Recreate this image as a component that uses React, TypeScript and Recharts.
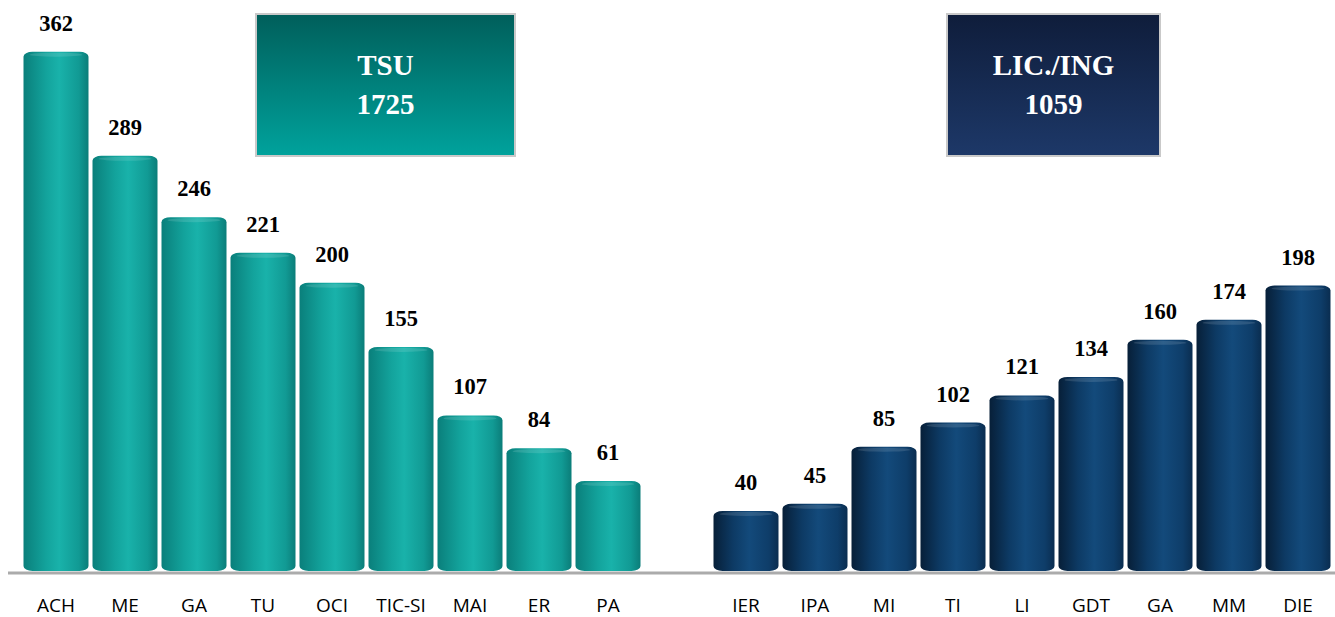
import { BarChart, Bar, XAxis, YAxis, Cell, LabelList } from "recharts";

const tsuCategories = ["ACH", "ME", "GA", "TU", "OCI", "TIC-SI", "MAI", "ER", "PA"];
const tsuValues = [362, 289, 246, 221, 200, 155, 107, 84, 61];
const licCategories = ["IER", "IPA", "MI", "TI", "LI", "GDT", "GA", "MM", "DIE"];
const licValues = [40, 45, 85, 102, 121, 134, 160, 174, 198];
const tsuTotal = 1725;
const licTotal = 1059;

type Row = { key: string; label: string; value: number | null; group: "tsu" | "lic" | "gap" };

const data: Row[] = [
  ...tsuCategories.map((c, i) => ({ key: `t-${c}`, label: c, value: tsuValues[i], group: "tsu" as const })),
  { key: "gap", label: "", value: null, group: "gap" as const },
  ...licCategories.map((c, i) => ({ key: `l-${c}`, label: c, value: licValues[i], group: "lic" as const })),
];

const serif = "'Liberation Serif', 'DejaVu Serif', serif";

function Cylinder(props: any) {
  const { x, y, width, height, fill } = props;
  if (height == null || height <= 0) return null;
  return (
    <g>
      <rect x={x} y={y} width={width} height={height + 3} rx={9} ry={5} fill={fill} />
      <ellipse cx={x + width / 2} cy={y + 3} rx={width / 2 - 6} ry={2} fill="#ffffff" opacity={0.12} />
    </g>
  );
}

function Tick(props: any) {
  const { x, y, payload } = props;
  const row = data[payload.index];
  return (
    <text x={x} y={y + 37} textAnchor="middle" fontFamily="'Open Sans', sans-serif" fontSize={19} fill="#000">
      {row ? row.label : ""}
    </text>
  );
}

function ValueLabel(props: any) {
  const { x, y, width, value } = props;
  if (value == null) return null;
  return (
    <text x={x + width / 2} y={y - 21} textAnchor="middle" fontFamily={serif} fontWeight="bold" fontSize={22.5} fill="#000">
      {value}
    </text>
  );
}

const boxText: React.CSSProperties = {
  position: "absolute",
  top: 13,
  height: 144,
  boxSizing: "border-box",
  border: "2px solid #c9c9c9",
  color: "#fff",
  fontFamily: serif,
  fontWeight: "bold",
  fontSize: 29,
  lineHeight: "39px",
  display: "flex",
  flexDirection: "column",
  alignItems: "center",
  justifyContent: "center",
};

export default function App() {
  return (
    <div style={{ position: "absolute", top: 0, left: 0, width: 1335, height: 617, background: "#fff", overflow: "hidden" }}>
      <BarChart
        width={1335}
        height={617}
        data={data}
        margin={{ top: 26, right: 0, bottom: 0, left: 8 }}
        barCategoryGap={2}
      >
        <defs>
          <linearGradient id="teal" x1="0" y1="0" x2="1" y2="0">
            <stop offset="0%" stopColor="#0a7f7b" />
            <stop offset="35%" stopColor="#13a39c" />
            <stop offset="55%" stopColor="#19b2aa" />
            <stop offset="85%" stopColor="#119a94" />
            <stop offset="100%" stopColor="#0b7d79" />
          </linearGradient>
          <linearGradient id="navy" x1="0" y1="0" x2="1" y2="0">
            <stop offset="0%" stopColor="#071f38" />
            <stop offset="30%" stopColor="#0d3a64" />
            <stop offset="55%" stopColor="#134a7b" />
            <stop offset="85%" stopColor="#0e3d69" />
            <stop offset="100%" stopColor="#0a2d50" />
          </linearGradient>
        </defs>
        <XAxis
          dataKey="key"
          height={44}
          padding={{ left: 13.5, right: 2.5 }}
          tickLine={false}
          tickSize={0}
          tick={<Tick />}
          interval={0}
          axisLine={{ stroke: "#ababab", strokeWidth: 3 }}
        />
        <YAxis hide domain={[-3.5, 380]} />
        <Bar dataKey="value" isAnimationActive={false} shape={<Cylinder />}>
          {data.map((d, i) => (
            <Cell key={`cell-${i}`} fill={d.group === "tsu" ? "url(#teal)" : "url(#navy)"} />
          ))}
          <LabelList dataKey="value" content={<ValueLabel />} />
        </Bar>
      </BarChart>
      <div
        style={{
          ...boxText,
          left: 255,
          width: 261,
          background: "linear-gradient(to bottom, #005f5b, #00a29c)",
        }}
      >
        <div>TSU</div>
        <div>{tsuTotal}</div>
      </div>
      <div
        style={{
          ...boxText,
          left: 946,
          width: 215,
          background: "linear-gradient(to bottom, #0f1d3b, #1d3868)",
        }}
      >
        <div>LIC./ING</div>
        <div>{licTotal}</div>
      </div>
    </div>
  );
}
